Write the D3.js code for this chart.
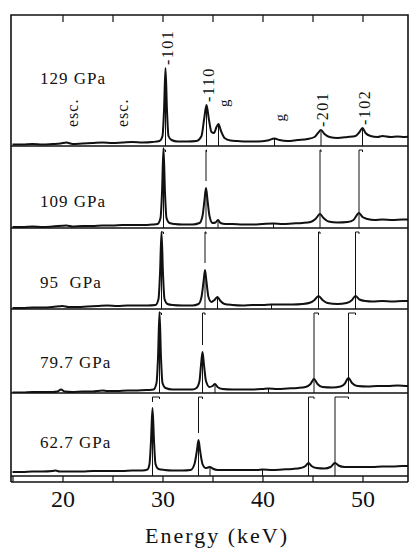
<!DOCTYPE html>
<html><head><meta charset="utf-8">
<script src="https://cdn.jsdelivr.net/npm/d3@7"></script>
<style>body{margin:0;background:#fff}svg{display:block}</style>
</head><body>
<svg id="c" width="409" height="548"></svg>
<script>
// ---------------- data ----------------
const pressures = ["129 GPa", "109 GPa", "95  GPa", "79.7 GPa", "62.7 GPa"];
const xTicks = [20, 30, 40, 50];
const minorTicks = [15, 20, 25, 30, 35, 40, 45, 50, 55];
const hklLabels = ["101", "110", "201", "102"];
const escEnergies = [21.05, 26.05];

// peak energies per panel (keV): 101, 110, g, g, 201, 102
const peaks129 = [30.3, 34.4, 35.6, 41.2, 45.85, 50.0];
const peaks109 = [30.1, 34.35, 35.55, 41.1, 45.75, 49.65];
const peaks95  = [29.9, 34.25, 35.5, 40.9, 45.6, 49.3];
const peaks79  = [29.7, 34.0, 35.25, 40.6, 45.15, 48.6];
const peaks62  = [29.0, 33.6, 34.75, 40.0, 44.6, 47.25];
const hklIndex = [0, 1, 4, 5];
const gIndex = [2, 3];

// spectra: [energy keV, intensity (arb.)]
const spectrum129 = [[15,1.5],[16,1.5],[17,2],[18,1.5],[19,2],[19.8,2.5],[20.4,3.5],[21,2],[22,2.5],[23,3],[24,3.5],[25,3],[26,3.5],[27,4],[28,3.5],[29,4],[29.7,5],[30.0,10],[30.15,35],[30.3,78],[30.45,35],[30.6,10],[30.9,6],[31.5,4.5],[32.5,4.5],[33.4,5],[33.9,10],[34.15,26],[34.4,41],[34.65,26],[34.9,14],[35.15,13],[35.4,19],[35.6,22],[35.85,15],[36.2,8],[36.8,5.5],[37.5,5],[38.5,4.5],[39.5,4.5],[40.5,5.5],[41.2,7.5],[41.7,6],[42.5,5],[43.5,6],[44.5,7],[45.2,9],[45.55,13],[45.85,16],[46.2,12],[46.7,9],[47.5,8],[48.5,9],[49.3,10],[49.7,14],[50.0,18],[50.3,13],[50.8,10],[51.5,9],[52,10],[52.8,9],[53.5,9.5],[54.2,9],[55,9.5]];
const spectrum109 = [[15,1],[16,1],[17,1.5],[18,1],[19,1.5],[20.4,2.5],[21,1.5],[22,2],[23,2],[24,2.5],[25,2.5],[26,3],[27,3],[28,3],[29,3.5],[29.5,4],[29.8,10],[29.95,35],[30.1,80],[30.25,35],[30.4,10],[30.7,5],[31.2,4],[32,3.5],[33,3.5],[33.7,5],[34.0,12],[34.2,28],[34.35,40],[34.5,28],[34.7,12],[35.0,5],[35.3,5.5],[35.55,8],[35.8,5],[36.3,4],[37,4],[38,3.5],[39,3.5],[40,4],[41.1,4.5],[42,4],[43,4.5],[44,5],[44.8,6],[45.3,9],[45.75,14],[46.1,10],[46.6,6.5],[47.5,5.5],[48.5,6],[49.1,8],[49.65,15],[50.0,11],[50.5,9],[51.2,8],[52,8.5],[53,8],[54,8.5],[55,8.5]];
const spectrum95 = [[15,1],[16,1],[17,1.5],[18,1.5],[19,2],[20.0,3],[20.6,2],[21.5,2],[22.5,2.5],[23.5,3],[24.5,3.5],[25.5,3],[26.5,3.5],[27.5,3.5],[28.5,3.5],[29.3,4],[29.6,10],[29.75,35],[29.9,77],[30.05,35],[30.2,10],[30.5,5],[31,4],[32,3.5],[33,3.5],[33.6,5],[33.9,12],[34.1,27],[34.25,39],[34.4,27],[34.6,12],[34.9,7],[35.2,9],[35.5,12],[35.8,8],[36.2,5],[37,4],[38,3.5],[39,4],[40,4],[40.9,4.5],[42,4.5],[43,4.5],[44,5],[44.8,6.5],[45.2,9],[45.6,13],[46.0,9],[46.5,6],[47.5,5],[48.4,6],[48.9,8.5],[49.3,13],[49.7,9.5],[50.3,8],[51,7.5],[52,8],[53,7.5],[54,8],[55,8]];
const spectrum79 = [[15,0.5],[16,0.5],[17,1],[18,1],[19,1],[19.5,1.5],[19.85,3.5],[20.2,1.5],[21,1],[22,1.5],[23,1.5],[24,2.5],[24.5,2],[25.5,2],[26.5,2.5],[27.5,2.5],[28.5,3],[29.1,3.5],[29.4,10],[29.55,35],[29.7,81],[29.85,35],[30.0,10],[30.3,5],[31,3.5],[32,3.5],[33,3.5],[33.4,5],[33.7,12],[33.85,28],[34.0,41],[34.15,28],[34.35,12],[34.7,6],[35.0,7],[35.25,9],[35.5,6],[36,4],[37,3.5],[38,3.5],[39,3.5],[40,4],[40.6,4.5],[41.5,4],[42.5,4.5],[43.5,5],[44.3,6],[44.8,9],[45.15,14],[45.5,9],[46,6],[47,5.5],[47.8,6.5],[48.2,9],[48.6,15],[48.95,10],[49.5,7],[50.5,6.5],[51.5,7],[52.5,7],[53.5,7.5],[54.5,7],[55,7.5]];
const spectrum62 = [[15,4],[16,4],[17,4.5],[18,4.5],[19,5],[19.3,5.5],[19.7,4.5],[21,4.5],[22,4.5],[23,5],[24,5],[25,5],[26,5],[27,5.5],[28,5.5],[28.5,6.5],[28.7,12],[28.85,35],[29.0,68],[29.15,35],[29.3,12],[29.6,7],[30.2,6],[31,5.5],[32,5.5],[32.8,6],[33.2,12],[33.45,26],[33.6,36],[33.75,26],[34.0,12],[34.3,8],[34.55,8.5],[34.75,9],[35.0,7.5],[35.5,6],[36.5,6],[37.5,6],[38.5,6],[39.5,6],[40.0,6.5],[41,6],[42,6.5],[43,7],[43.8,8],[44.3,10],[44.6,13],[44.9,10],[45.4,8],[46.2,7.5],[46.8,9],[47.25,13],[47.6,10.5],[48.2,9],[49,9],[50,9],[51,9],[52,9.5],[53,9.5],[54,10],[55,10]];

const spectra = [spectrum129, spectrum109, spectrum95, spectrum79, spectrum62];
const peakSets = [peaks129, peaks109, peaks95, peaks79, peaks62];

// ---------------- layout ----------------
const svg = d3.select("#c");
const FONT = "'Liberation Serif','Times New Roman',serif";
const frameL = 11, frameR = 408, frameT = 15;
const panelBottoms = [146, 228, 309, 393, 476];
const panelTops = [frameT].concat(panelBottoms.slice(0, 4));
const axisBand = 6;

const x = d3.scaleLinear().domain([20, 50]).range([62.5, 362.5]);

const defs = svg.append("defs");
defs.append("clipPath").attr("id", "frameClip")
  .append("rect").attr("x", frameL).attr("y", frameT).attr("width", frameR - frameL).attr("height", panelBottoms[4] - frameT);

const bis = d3.bisector(d => d[0]).left;
function valueAt(spec, e) {
  const i = Math.max(1, Math.min(spec.length - 1, bis(spec, e)));
  const a = spec[i - 1], b = spec[i];
  const t = (e - a[0]) / (b[0] - a[0]);
  return a[1] + t * (b[1] - a[1]);
}

const ink = "#111";
const plot = svg.append("g").attr("clip-path", "url(#frameClip)");

spectra.forEach((spec, i) => {
  const y = d3.scaleLinear().domain([0, 100]).range([panelBottoms[i], panelBottoms[i] - 100]);
  const clipId = "pc" + i;
  defs.append("clipPath").attr("id", clipId)
    .append("rect").attr("x", frameL).attr("y", panelTops[i] + 1).attr("width", frameR - frameL)
    .attr("height", panelBottoms[i] - panelTops[i] - 1);
  const pg = plot.append("g").attr("clip-path", `url(#${clipId})`);
  const peaks = peakSets[i];
  // drop lines from peak to baseline
  peaks.forEach(e => {
    pg.append("line").attr("x1", x(e)).attr("x2", x(e))
      .attr("y1", y(valueAt(spec, e))).attr("y2", panelBottoms[i])
      .attr("stroke", ink).attr("stroke-width", 1);
  });
  // brackets tracking the indexed peaks from the panel above
  if (i > 0) {
    const gaps = [6, 7, 0, 0];
    hklIndex.forEach((k, j) => {
      const eCur = peaks[k], ePrev = peakSets[i - 1][k];
      const yTop = panelTops[i] + 4;
      const yEnd = Math.max(yTop + 2, y(valueAt(spec, eCur)) - gaps[j]);
      pg.append("path")
        .attr("d", `M${x(ePrev)},${yTop + 2}V${yTop}H${x(eCur)}V${yEnd}`)
        .attr("fill", "none").attr("stroke", ink).attr("stroke-width", 1);
    });
  }
  // spectrum line
  pg.append("path").datum(spec)
    .attr("d", d3.line().x(d => x(d[0])).y(d => y(d[1])).curve(d3.curveMonotoneX))
    .attr("fill", "none").attr("stroke", ink).attr("stroke-width", 2)
    .attr("stroke-linejoin", "round");

  // pressure label
  svg.append("text").attr("x", 40).attr("y", [84, 207, 288, 368, 448][i])
    .attr("font-family", FONT).attr("font-size", 17).attr("letter-spacing", 1)
    .attr("fill", ink).style("white-space", "pre").text(pressures[i]);

  // annotations on the top panel
  if (i === 0) {
    const rot = (e, yb, txt, size, ls) => {
      svg.append("text").attr("transform", `translate(${x(e) + 2},${yb}) rotate(-90)`)
        .attr("dy", "0.33em").attr("font-family", FONT).attr("font-size", size)
        .attr("letter-spacing", ls).attr("fill", ink).text(txt);
    };
    hklIndex.forEach((k, j) => {
      const e = peaks[k];
      rot(e, y(valueAt(spec, e)) - 3, "-" + hklLabels[j], 16, 1.5);
    });
    gIndex.forEach(k => {
      const e = peaks[k];
      rot(e + 0.4, y(valueAt(spec, e)) - 17, "g", 15, 0);
    });
    escEnergies.forEach(e => rot(e - 0.2, 127, "esc.", 16, 1));
  }
});

// separators and frame
panelBottoms.slice(0, 4).forEach(yy => {
  svg.append("line").attr("x1", frameL).attr("x2", frameR).attr("y1", yy).attr("y2", yy)
    .attr("stroke", ink).attr("stroke-width", 1.6);
});
svg.append("path")
  .attr("d", `M${frameL},${panelBottoms[4] + axisBand}V${frameT}H${frameR}V${panelBottoms[4] + axisBand}`)
  .attr("fill", "none").attr("stroke", ink).attr("stroke-width", 1.6);

// top ticks
const topAxis = svg.append("g").attr("transform", `translate(0,${frameT})`)
  .call(d3.axisBottom(x).tickValues(minorTicks.filter(t => t > 15 && t < 55)).tickSize(7).tickFormat(""));
topAxis.select(".domain").remove();
topAxis.selectAll("line").attr("stroke", ink).attr("stroke-width", 1.2);

// bottom axis band
const botAxis = svg.append("g").attr("transform", `translate(0,${panelBottoms[4]})`)
  .call(d3.axisBottom(x).tickValues(minorTicks).tickSize(axisBand).tickFormat(""));
botAxis.select(".domain").remove();
botAxis.selectAll("line").attr("stroke", ink).attr("stroke-width", 1.2);
[panelBottoms[4], panelBottoms[4] + axisBand].forEach(yy => {
  svg.append("line").attr("x1", frameL).attr("x2", frameR).attr("y1", yy).attr("y2", yy)
    .attr("stroke", ink).attr("stroke-width", 1.6);
});

const labAxis = svg.append("g").attr("transform", `translate(0,${panelBottoms[4]})`)
  .call(d3.axisBottom(x).tickValues(xTicks).tickSize(0).tickPadding(14));
labAxis.select(".domain").remove();
labAxis.selectAll("text").attr("font-family", FONT).attr("font-size", 24).attr("fill", ink);

svg.append("text").attr("x", 217).attr("y", 543).attr("text-anchor", "middle")
  .attr("font-family", FONT).attr("font-size", 22).attr("letter-spacing", 2)
  .attr("fill", ink).text("Energy (keV)");
</script>
</body></html>
